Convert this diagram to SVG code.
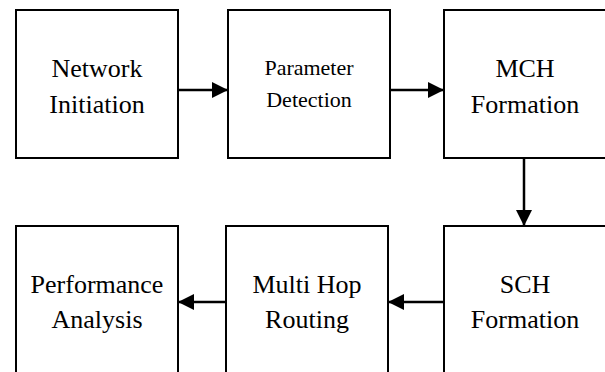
<svg xmlns="http://www.w3.org/2000/svg" width="605" height="372" viewBox="0 0 605 372">
  <style>
    .box { fill: #fff; stroke: #000; stroke-width: 2; }
    .lbl { font-family: "Liberation Serif", "Times New Roman", serif; font-size: 26px; fill: #000; text-anchor: middle; }
    .sm { font-size: 22px; }
    .conn { stroke: #000; stroke-width: 2.5; fill: none; }
  </style>
  <defs>
    <marker id="arrow" viewBox="0 0 16 16" refX="16" refY="8" markerWidth="16" markerHeight="16" markerUnits="userSpaceOnUse" orient="auto">
      <path d="M0,0 L16,8 L0,16 Z" fill="#000"/>
    </marker>
  </defs>
  <rect width="605" height="372" fill="#fff"/>

  <g id="network-initiation">
    <rect class="box" x="16" y="10" width="162" height="148"/>
    <text class="lbl" x="97" y="77">Network</text>
    <text class="lbl" x="97" y="113">Initiation</text>
  </g>
  <g id="parameter-detection">
    <rect class="box" x="228" y="10" width="162" height="148"/>
    <text class="lbl sm" x="309" y="75">Parameter</text>
    <text class="lbl sm" x="309" y="107">Detection</text>
  </g>
  <g id="mch-formation">
    <rect class="box" x="444" y="10" width="162" height="148"/>
    <text class="lbl" x="525" y="77">MCH</text>
    <text class="lbl" x="525" y="113">Formation</text>
  </g>
  <g id="performance-analysis">
    <rect class="box" x="16" y="226" width="162" height="150"/>
    <text class="lbl" x="97" y="293">Performance</text>
    <text class="lbl" x="97" y="328">Analysis</text>
  </g>
  <g id="multi-hop-routing">
    <rect class="box" x="226" y="226" width="162" height="150"/>
    <text class="lbl" x="307" y="293">Multi Hop</text>
    <text class="lbl" x="307" y="328">Routing</text>
  </g>
  <g id="sch-formation">
    <rect class="box" x="444" y="226" width="162" height="150"/>
    <text class="lbl" x="525" y="293">SCH</text>
    <text class="lbl" x="525" y="328">Formation</text>
  </g>

  <g id="connectors">
    <line class="conn" x1="178" y1="90" x2="228" y2="90" marker-end="url(#arrow)"/>
    <line class="conn" x1="390" y1="90" x2="444" y2="90" marker-end="url(#arrow)"/>
    <line class="conn" x1="524" y1="158" x2="524" y2="226" marker-end="url(#arrow)"/>
    <line class="conn" x1="444" y1="302" x2="388" y2="302" marker-end="url(#arrow)"/>
    <line class="conn" x1="226" y1="302" x2="178" y2="302" marker-end="url(#arrow)"/>
  </g>
</svg>
